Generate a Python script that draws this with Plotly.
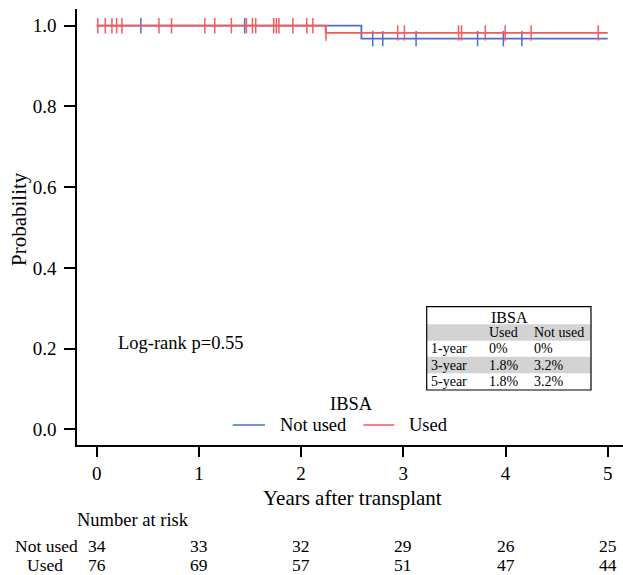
import plotly.graph_objects as go

# ---------------- data ----------------
risk_times = [0, 1, 2, 3, 4, 5]
x_tick_labels = ["0", "1", "2", "3", "4", "5"]
y_tick_values = [0.0, 0.2, 0.4, 0.6, 0.8, 1.0]

not_used_step_times = [0.0, 2.59, 5.0]
not_used_step_surv = [1.0, 0.968, 0.968]
used_step_times = [0.0, 2.24, 5.0]
used_step_surv = [1.0, 0.982, 0.982]

not_used_censor_times = [0.432, 1.448, 2.701, 2.799, 3.125, 3.727, 3.979, 4.160]
used_censor_times = [0.010, 0.084, 0.149, 0.195, 0.247, 0.609, 0.732, 1.058, 1.155,
                     1.318, 1.465, 1.524, 1.556, 1.732, 1.758, 1.783, 1.920, 2.056,
                     2.115, 2.244, 2.945, 3.011, 3.541, 3.570, 3.802, 3.997, 4.251,
                     4.908]

not_used_at_risk = [34, 33, 32, 29, 26, 25]
used_at_risk = [76, 69, 57, 51, 47, 44]

group_names = ["Not used", "Used"]
legend_title = "IBSA"

table_title = "IBSA"
table_header = ["", "Used", "Not used"]
table_rows = ["1-year", "3-year", "5-year"]
table_used = ["0%", "1.8%", "1.8%"]
table_not_used = ["0%", "3.2%", "3.2%"]

logrank_text = "Log-rank p=0.55"

# ---------------- style / layout ----------------
FONT = "Liberation Serif, Times New Roman, serif"
BLUE = "#4A6FD0"
RED = "#F35B5B"
W, H = 623, 575
ML, MR, MT, MB = 77, 0, 9, 130
PW, PH = W - ML - MR, H - MT - MB


def px(x):
    return (x - ML) / PW


def py(y):
    return (H - MB - y) / PH


def step_value(times, surv, t):
    v = surv[0]
    for tt, s in zip(times, surv):
        if tt <= t:
            v = s
    return v


fig = go.Figure()

series = [
    (group_names[0], BLUE, not_used_step_times, not_used_step_surv, not_used_censor_times),
    (group_names[1], RED, used_step_times, used_step_surv, used_censor_times),
]
for name, col, st, ss, ct in series:
    fig.add_trace(go.Scatter(
        x=st, y=ss, mode="lines", name=name, line=dict(color=col, width=1.8, shape="hv"),
        showlegend=False))
    fig.add_trace(go.Scatter(
        x=ct, y=[step_value(st, ss, t) for t in ct], mode="markers", name=name,
        marker=dict(symbol="line-ns", size=11, line=dict(color=col, width=1.5)),
        showlegend=False, hoverinfo="skip"))

annotations = []
shapes = []


def text(s, x, y, size=18.5, xanchor="center", xref="paper", **kw):
    annotations.append(dict(text=s, x=x, y=y, xref=xref, yref="paper", xanchor=xanchor,
                            yanchor="middle", showarrow=False, borderpad=0,
                            font=dict(size=size), **kw))


# axis titles
text("Probability", px(19), py(219), size=21, textangle=-90)
text("Years after transplant", px(352), py(498), size=21)

# log-rank
text(logrank_text, px(117), py(343), xanchor="left")

# legend (title, line keys, labels)
text(legend_title, px(351), py(404))
legend_keys = [(232.7, 265.0, 279.3), (363.3, 394.3, 408.3)]
for name, col, (l0, l1, tx) in zip(group_names, [BLUE, RED], legend_keys):
    shapes.append(dict(type="line", xref="paper", yref="paper", x0=px(l0), x1=px(l1),
                       y0=py(425), y1=py(425), line=dict(color=col, width=1.5)))
    text(name, px(tx), py(425), xanchor="left")

# number at risk
RS = 17.5
row1_y, row2_y = 545.5, 565.0
text("Number at risk", px(76), py(520), xanchor="left")
text(group_names[0], px(46.5), py(row1_y), size=RS)
text(group_names[1], px(45), py(row2_y), size=RS)
for t, a, b in zip(risk_times, not_used_at_risk, used_at_risk):
    text(str(a), t, py(row1_y), xref="x", size=RS)
    text(str(b), t, py(row2_y), xref="x", size=RS)

# inset table
tb_left, tb_right = 426.7, 591
row_edges = [306.7, 324.3, 340.7, 356.7, 373.3, 390]
for i in (1, 3):
    shapes.append(dict(type="rect", xref="paper", yref="paper", x0=px(tb_left), x1=px(tb_right),
                       y0=py(row_edges[i]), y1=py(row_edges[i + 1]),
                       fillcolor="#D3D3D3", line=dict(width=0), layer="above"))
shapes.append(dict(type="rect", xref="paper", yref="paper", x0=px(tb_left), x1=px(tb_right),
                   y0=py(row_edges[0]), y1=py(row_edges[-1]),
                   line=dict(color="black", width=1.2), layer="above"))


def rc(i):
    return (row_edges[i] + row_edges[i + 1]) / 2


text(table_title, px(509), py(rc(0) + 1.5), size=16)
col_x = [430, 487.7, 533]
for j, h in enumerate(table_header):
    if h:
        text(h, px(col_x[j]), py(rc(1)), size=14, xanchor="left")
for i, row in enumerate(zip(table_rows, table_used, table_not_used)):
    for j, s in enumerate(row):
        text(s, px(col_x[j]), py(rc(i + 2)), size=14, xanchor="left")

x0_px = 96.7
x_scale = 102.2
y1_px, y0_px = 25.7, 429.3
y_scale = (y0_px - y1_px)

fig.update_layout(
    width=W, height=H,
    margin=dict(l=ML, r=MR, t=MT, b=MB, pad=0),
    paper_bgcolor="white", plot_bgcolor="white",
    font=dict(family=FONT, color="black", size=18.5),
    showlegend=False,
    xaxis=dict(range=[(ML - x0_px) / x_scale, (W - MR - x0_px) / x_scale],
               tickvals=risk_times, ticktext=x_tick_labels, automargin=False,
               showline=True, linecolor="black", linewidth=1.5,
               ticks="outside", ticklen=10, tickwidth=1.5, tickcolor="black",
               ticklabelstandoff=0,
               showgrid=False, zeroline=False, tickfont=dict(size=19, family=FONT)),
    yaxis=dict(range=[-(H - MB - y0_px) / y_scale, 1 + (y1_px - MT) / y_scale],
               tickvals=y_tick_values, tickformat=".1f", automargin=False,
               showline=True, linecolor="black", linewidth=1.5,
               ticks="outside", ticklen=11, tickwidth=1.5, tickcolor="black",
               ticklabelstandoff=4,
               showgrid=False, zeroline=False, tickfont=dict(size=19, family=FONT)),
    annotations=annotations,
    shapes=shapes,
)

fig.write_html("out.html", config={"displayModeBar": False},
               post_script="document.body.style.margin='0';document.body.style.padding='0';")
